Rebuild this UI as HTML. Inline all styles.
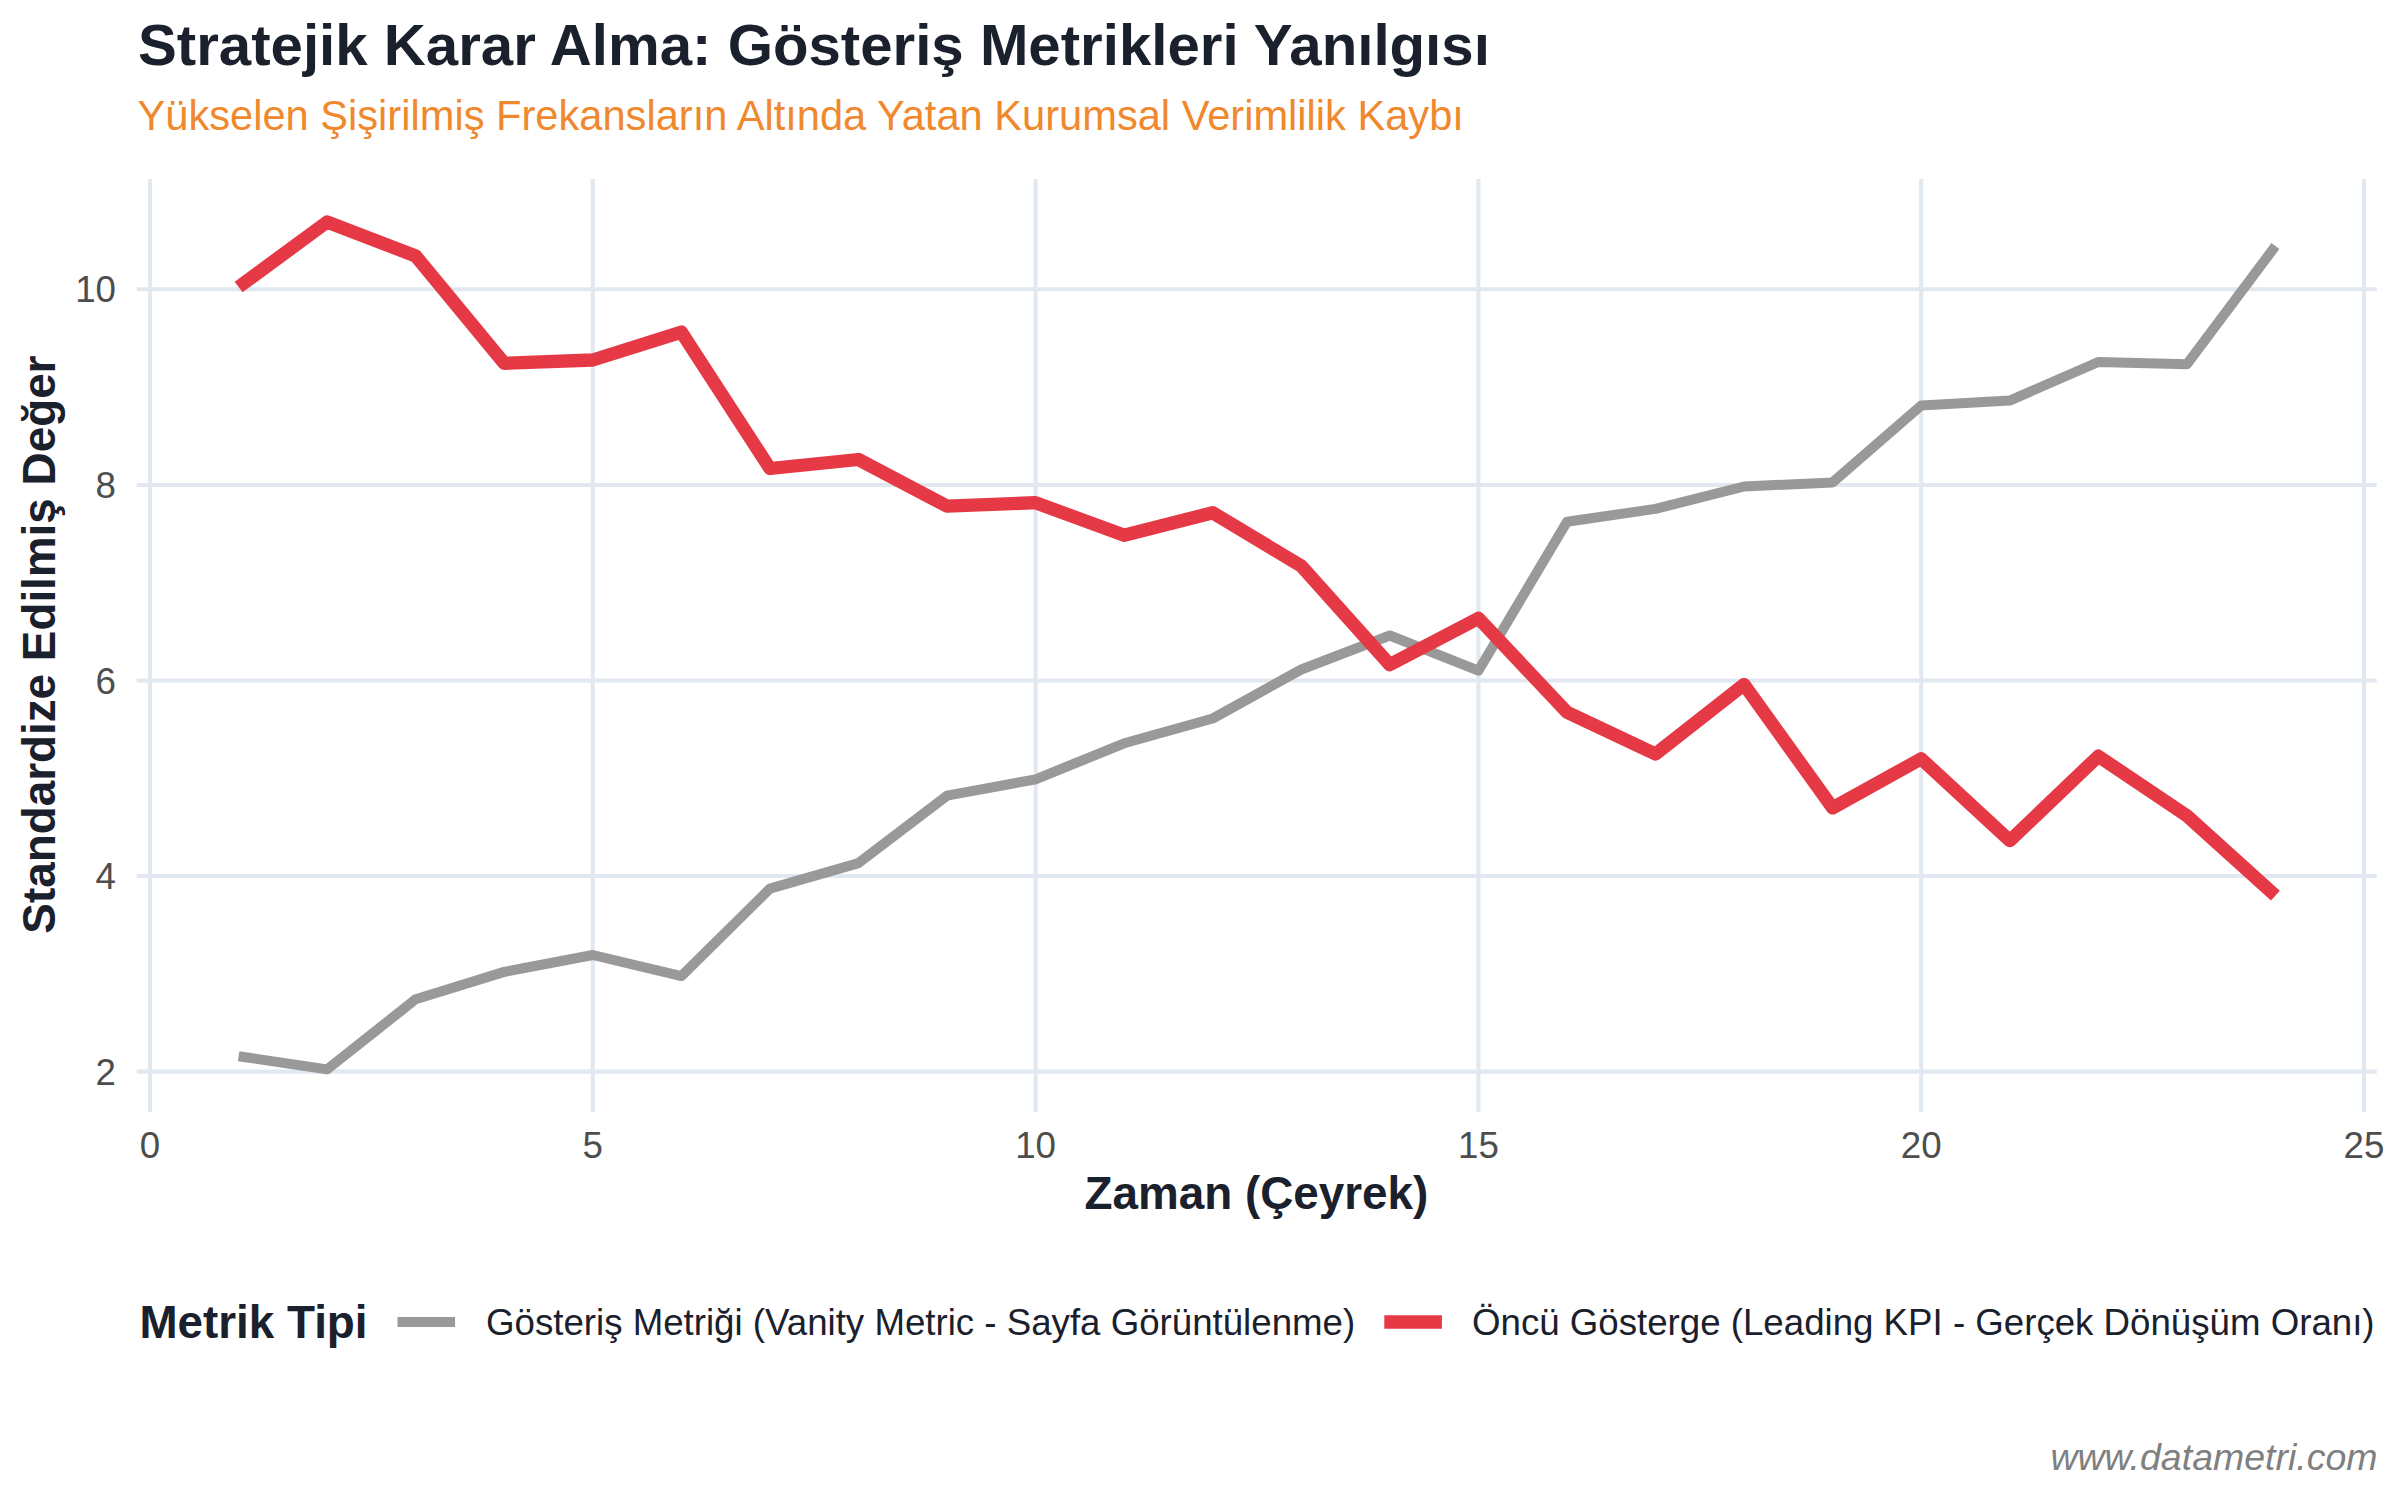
<!DOCTYPE html>
<html lang="tr">
<head>
<meta charset="utf-8">
<title>Stratejik Karar Alma: Gösteriş Metrikleri Yanılgısı</title>
<style>
html,body{margin:0;padding:0;background:#fff;}
body{width:2400px;height:1500px;overflow:hidden;}
svg{display:block;}
text{font-family:"Liberation Sans",Arial,Helvetica,sans-serif;}
.title{font-size:58.2px;font-weight:bold;fill:#1a202c;}
.sub{font-size:41.64px;fill:#f0882d;}
.tick text{font-size:36.7px;fill:#4d4d4d;}
.axt{font-size:45.83px;font-weight:bold;fill:#1a202c;}
.legt{font-size:45.8px;font-weight:bold;fill:#1a202c;}
.leg{font-size:36.67px;fill:#1a202c;}
.cap{font-size:37.5px;font-style:italic;fill:#808080;}
</style>
</head>
<body>
<svg width="2400" height="1500" viewBox="0 0 2400 1500">
<rect width="2400" height="1500" fill="#ffffff"/>
<g stroke="#e2e8f0" stroke-width="4.1" fill="none">
<line x1="136.75" x2="2376.75" y1="289.25" y2="289.25"/>
<line x1="136.75" x2="2376.75" y1="485" y2="485"/>
<line x1="136.75" x2="2376.75" y1="680.5" y2="680.5"/>
<line x1="136.75" x2="2376.75" y1="876" y2="876"/>
<line x1="136.75" x2="2376.75" y1="1071.6" y2="1071.6"/>
<line x1="150" x2="150" y1="179.1" y2="1112.2"/>
<line x1="592.8" x2="592.8" y1="179.1" y2="1112.2"/>
<line x1="1035.6" x2="1035.6" y1="179.1" y2="1112.2"/>
<line x1="1478.4" x2="1478.4" y1="179.1" y2="1112.2"/>
<line x1="1921.2" x2="1921.2" y1="179.1" y2="1112.2"/>
<line x1="2364" x2="2364" y1="179.1" y2="1112.2"/>
</g>
<polyline points="238.6,1056.2 327.1,1069.4 415.7,999.2 504.2,971.9 592.8,955.0 681.4,976.1 769.9,888.6 858.5,863.1 947.0,795.7 1035.6,779.3 1124.2,743.3 1212.7,718.5 1301.3,669.5 1389.8,635.5 1478.4,670.7 1567.0,521.8 1655.5,508.9 1744.1,486.5 1832.6,482.4 1921.2,405.5 2009.8,400.6 2098.3,362.0 2186.9,364.2 2275.4,246.1" fill="none" stroke="#999999" stroke-width="10" stroke-linejoin="round" stroke-linecap="butt"/>
<polyline points="238.6,287.0 327.1,222.0 415.7,256.0 504.2,363.3 592.8,360.0 681.4,332.1 769.9,468.5 858.5,459.5 947.0,506.2 1035.6,502.7 1124.2,535.3 1212.7,512.7 1301.3,566.0 1389.8,664.7 1478.4,618.3 1567.0,712.3 1655.5,754.1 1744.1,684.6 1832.6,807.9 1921.2,758.8 2009.8,840.7 2098.3,756.2 2186.9,815.8 2275.4,895.6" fill="none" stroke="#e63946" stroke-width="13.3" stroke-linejoin="round" stroke-linecap="butt"/>
<g class="tick" text-anchor="end">
<text x="116" y="302.2">10</text>
<text x="116" y="498.0">8</text>
<text x="116" y="693.5">6</text>
<text x="116" y="889.0">4</text>
<text x="116" y="1084.6">2</text>
</g>
<g class="tick" text-anchor="middle">
<text x="150" y="1158">0</text>
<text x="592.8" y="1158">5</text>
<text x="1035.6" y="1158">10</text>
<text x="1478.4" y="1158">15</text>
<text x="1921.2" y="1158">20</text>
<text x="2364" y="1158">25</text>
</g>
<text class="title" x="138" y="64.9">Stratejik Karar Alma: Gösteriş Metrikleri Yanılgısı</text>
<text class="sub" x="137.5" y="130">Yükselen Şişirilmiş Frekansların Altında Yatan Kurumsal Verimlilik Kaybı</text>
<text class="axt" x="1256.4" y="1208.75" text-anchor="middle">Zaman (Çeyrek)</text>
<text class="axt" transform="translate(55,644.6) rotate(-90)" text-anchor="middle">Standardize Edilmiş Değer</text>
<text class="legt" x="139.4" y="1338">Metrik Tipi</text>
<line x1="397.5" x2="455.1" y1="1322" y2="1322" stroke="#999999" stroke-width="10"/>
<text class="leg" x="486" y="1335">Gösteriş Metriği (Vanity Metric - Sayfa Görüntülenme)</text>
<line x1="1384.3" x2="1441.9" y1="1322" y2="1322" stroke="#e63946" stroke-width="13.3"/>
<text class="leg" x="1472" y="1335">Öncü Gösterge (Leading KPI - Gerçek Dönüşüm Oranı)</text>
<text class="cap" x="2377.6" y="1469.8" text-anchor="end">www.datametri.com</text>
</svg>
</body>
</html>
